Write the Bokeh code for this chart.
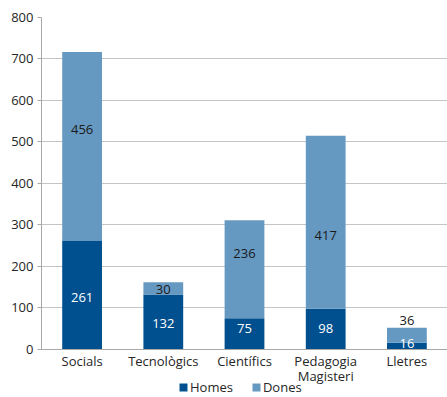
from bokeh.plotting import figure
from bokeh.models import ColumnDataSource, FactorRange, Range1d, FixedTicker, Legend, LegendItem
from bokeh.core.properties import value
from bokeh.embed import file_html
from bokeh.resources import INLINE

categories = ["Socials", "Tecnològics", "Científics", "Pedagogia\nMagisteri", "Lletres"]
homes = [261, 132, 75, 98, 16]
dones = [456, 30, 236, 417, 36]
# label anchor heights (data units)
homes_label_y = [126, 63, 51, 51, 14]
dones_label_y = [529, 144, 231, 275, 70]
y_ticks = [0, 100, 200, 300, 400, 500, 600, 700, 800]

HOMES_C = "#00508f"
DONES_C = "#6699c1"
FONT = "Open Sans"
TXT = "#262626"

src = ColumnDataSource(dict(cat=categories, homes=homes, dones=dones,
                            hl=[str(v) for v in homes], dl=[str(v) for v in dones],
                            hy=homes_label_y, dy=dones_label_y))

# the frame runs down to the bottom of the page; the category axis sits at y = 0
p = figure(x_range=FactorRange(*categories, range_padding=0), y_range=Range1d(-116, 800),
           width=447, height=397, output_backend="svg", toolbar_location=None,
           min_border_left=41, min_border_right=0, min_border_top=17, min_border_bottom=0)
p.outline_line_color = None
p.background_fill_color = "white"

rs = p.vbar_stack(["homes", "dones"], x="cat", width=0.49, color=[HOMES_C, DONES_C],
                  line_color=None, source=src)

p.text(x="cat", y="hy", text="hl", source=src, text_align="center", text_baseline="middle",
       text_font=value(FONT), text_font_size="13px", text_color="white")
p.text(x="cat", y="dy", text="dl", source=src, text_align="center", text_baseline="middle",
       text_font=value(FONT), text_font_size="13px", text_color="#1a1a1a")

p.xgrid.visible = False
p.ygrid.grid_line_color = "#c4c4c4"
p.ygrid.grid_line_width = 1

p.yaxis.ticker = FixedTicker(ticks=y_ticks)
p.yaxis.bounds = (0, 800)
p.yaxis.axis_line_color = "#a8a8a8"
p.yaxis.major_tick_line_color = "#a8a8a8"
p.yaxis.major_tick_out = 4
p.yaxis.major_tick_in = 0
p.yaxis.minor_tick_line_color = None
p.yaxis.major_label_standoff = 4

p.xaxis.fixed_location = 0
p.xaxis.axis_line_color = "#a8a8a8"
p.xaxis.major_tick_line_color = None
p.xaxis.major_tick_out = 0
p.xaxis.major_tick_in = 0
p.xaxis.major_label_standoff = 3
p.xaxis.major_label_text_line_height = 0.8

for ax in (p.xaxis, p.yaxis):
    ax.major_label_text_font = FONT
    ax.major_label_text_font_size = "13px"
    ax.major_label_text_color = TXT

legend = Legend(items=[LegendItem(label="Homes", renderers=[rs[0]]),
                       LegendItem(label="Dones", renderers=[rs[1]])],
                orientation="horizontal", location=(137, 1), padding=0, margin=0,
                spacing=18, glyph_width=10, glyph_height=10, label_standoff=2,
                label_height=12, label_text_font=FONT, label_text_font_size="13px",
                label_text_color=TXT, label_text_baseline="middle",
                background_fill_alpha=0, border_line_color=None)
p.add_layout(legend)

open("out.html", "w").write(file_html(p, INLINE))
